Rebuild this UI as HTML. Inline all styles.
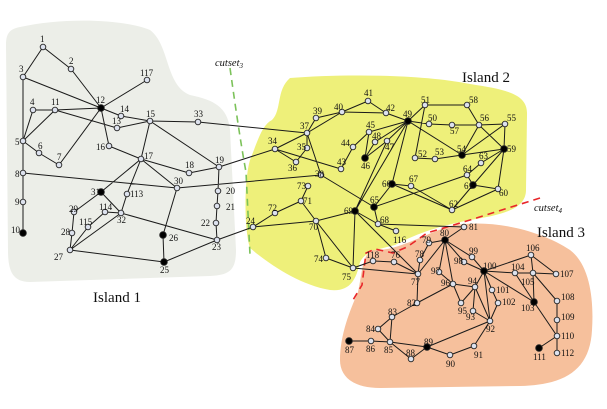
<!DOCTYPE html>
<html><head><meta charset="utf-8"><style>
html,body{margin:0;padding:0;background:#fff;}
svg{display:block;}
text{font-family:"Liberation Serif",serif;font-size:9px;fill:#111;}
.big{font-size:15px;}
.it{font-style:italic;font-size:10.5px;}
</style></head><body>
<svg id="s" width="607" height="409" viewBox="0 0 607 409" xmlns="http://www.w3.org/2000/svg">
<path d="M20,27 C60,18 120,18 150,30 C170,45 165,85 190,95 C215,100 228,108 230,130 L236,250 C236,270 230,275 210,276 L30,282 C12,282 8,270 8,250 L6,45 C6,33 10,29 20,27 Z" fill="#eceee8"/>
<path d="M290,78 C340,74 420,74 470,84 C510,90 528,95 527,115 L526,190 C526,210 500,215 470,220 C440,226 420,232 395,245 C375,250 365,252 360,262 C356,280 350,292 330,290 C300,285 270,265 250,248 C244,230 244,180 250,160 C258,140 262,125 272,120 C282,110 276,90 290,78 Z" fill="#eef07a"/>
<path d="M372,250 C395,252 420,236 450,226 C490,218 540,230 570,250 C590,265 594,300 592,330 C590,370 565,385 520,386 L380,388 C355,388 340,378 340,360 C340,335 350,310 358,292 C362,275 362,255 372,250 Z" fill="#f6c09c"/>
<path d="M230,68 Q240,140 246,172 L250,255" fill="none" stroke="#7cc25a" stroke-width="1.6" stroke-dasharray="7,5"/>
<path d="M540,198 L470,220 L427,233 L407,247 L393,253 L375,249 L366,253 L362,285 L353,300" fill="none" stroke="#e8262a" stroke-width="1.6" stroke-dasharray="7,5"/>
<g id="E" stroke="#1a1a1a" stroke-width="1" fill="none"></g>
<g id="N"></g>
<text x="117" y="302" class="big" text-anchor="middle">Island 1</text>
<text x="486" y="82" class="big" text-anchor="middle">Island 2</text>
<text x="561" y="237" class="big" text-anchor="middle">Island 3</text>
<text x="215" y="66" class="it">cutset<tspan font-size="7" dy="2">3</tspan></text>
<text x="534" y="211" class="it">cutset<tspan font-size="7" dy="2">4</tspan></text>
<text x="40" y="42">1</text><text x="69" y="64">2</text><text x="19" y="72">3</text><text x="140" y="76">117</text><text x="96" y="103">12</text><text x="30" y="105">4</text><text x="51" y="105">11</text><text x="120" y="112">14</text><text x="112" y="124">13</text><text x="146" y="117">15</text><text x="194" y="117">33</text><text x="15" y="145">5</text><text x="38" y="149">6</text><text x="57" y="160">7</text><text x="96" y="150">16</text><text x="144" y="159">17</text><text x="215" y="163">19</text><text x="185" y="168">18</text><text x="15" y="177">8</text><text x="174" y="184">30</text><text x="91" y="195">31</text><text x="130" y="197">113</text><text x="226" y="194">20</text><text x="226" y="210">21</text><text x="69" y="212">29</text><text x="99" y="210">114</text><text x="117" y="223">32</text><text x="15" y="205">9</text><text x="201" y="226">22</text><text x="79" y="225">115</text><text x="11" y="233">10</text><text x="169" y="241">26</text><text x="61" y="235">28</text><text x="212" y="250">23</text><text x="54" y="260">27</text><text x="160" y="273">25</text>
<text x="364" y="96">41</text><text x="313" y="114">39</text><text x="334" y="110">40</text><text x="386" y="111">42</text><text x="403" y="117">49</text><text x="421" y="103">51</text><text x="428" y="121">50</text><text x="300" y="129">37</text><text x="366" y="128">45</text><text x="372" y="139">48</text><text x="385" y="150">47</text><text x="341" y="146">44</text><text x="268" y="144">34</text><text x="297" y="150">35</text><text x="288" y="171">36</text><text x="361" y="169">46</text><text x="418" y="157">52</text><text x="435" y="155">53</text><text x="337" y="165">43</text><text x="315" y="177">38</text><text x="382" y="187">66</text><text x="409" y="182">67</text><text x="370" y="203">65</text><text x="469" y="103">58</text><text x="480" y="121">56</text><text x="507" y="121">55</text><text x="450" y="134">57</text><text x="457" y="152">54</text><text x="507" y="152">59</text><text x="479" y="159">63</text><text x="463" y="172">64</text><text x="464" y="189">61</text><text x="499" y="196">60</text><text x="449" y="207">62</text><text x="297" y="189">73</text><text x="303" y="204">71</text><text x="268" y="211">72</text><text x="246" y="224">24</text><text x="309" y="230">70</text><text x="344" y="214">69</text><text x="380" y="223">68</text><text x="393" y="243">116</text><text x="314" y="262">74</text><text x="342" y="280">75</text><text x="366" y="258">118</text><text x="391" y="258">76</text><text x="411" y="285">77</text><text x="415" y="257">78</text><text x="422" y="243">79</text><text x="469" y="230">81</text><text x="440" y="236">80</text><text x="469" y="254">99</text><text x="454" y="264">98</text><text x="483" y="269">100</text><text x="431" y="274">97</text><text x="441" y="286">96</text><text x="468" y="284">94</text><text x="458" y="314">95</text><text x="466" y="320">93</text><text x="486" y="332">92</text><text x="407" y="306">82</text><text x="388" y="315">83</text><text x="366" y="332">84</text><text x="384" y="353">85</text><text x="366" y="352">86</text><text x="345" y="353">87</text><text x="406" y="356">88</text><text x="424" y="345">89</text><text x="446" y="367">90</text><text x="474" y="358">91</text><text x="526" y="251">106</text><text x="511" y="270">104</text><text x="521" y="285">105</text><text x="560" y="277">107</text><text x="496" y="293">101</text><text x="502" y="305">102</text><text x="521" y="311">103</text><text x="561" y="300">108</text><text x="561" y="320">109</text><text x="561" y="339">110</text><text x="533" y="360">111</text><text x="561" y="356">112</text>
</svg>
<script>
var P={1:[43,47],2:[71,69],3:[23,77],117:[147,80],12:[101,108],4:[33,110],11:[55,110],14:[121,116],13:[117,128],15:[150,121],33:[198,122],5:[23,141],6:[39,153],7:[59,165],16:[109,146],17:[141,159],19:[219,167],18:[189,173],8:[23,173],30:[177,188],31:[101,192],113:[127,194],20:[218,191],21:[217,206],29:[74,212],114:[105,212],32:[121,213],9:[23,202],22:[216,223],115:[88,227],10:[23,233],26:[163,235],28:[72,233],23:[217,240],27:[70,250],25:[164,262],
41:[368,101],39:[316,118],40:[342,112],42:[386,113],49:[408,121],51:[425,105],50:[429,124],37:[307,133],45:[369,132],48:[375,142],47:[387,141],44:[353,147],34:[275,149],35:[307,148],36:[296,162],46:[365,158],52:[415,158],53:[435,159],43:[341,169],38:[321,175],66:[392,184],67:[411,186],65:[374,207],58:[467,105],56:[479,125],55:[505,124],57:[452,125],54:[462,155],59:[504,149],63:[481,163],64:[467,175],61:[473,185],60:[498,189],62:[452,210],
73:[308,186],71:[301,201],72:[275,213],24:[253,227],70:[316,221],69:[355,211],68:[378,224],116:[396,231],74:[326,258],75:[353,268],118:[373,261],76:[394,262],77:[418,274],78:[420,260],79:[429,243],
81:[464,227],80:[445,240],99:[472,257],98:[464,262],100:[484,271],97:[439,272],96:[453,284],94:[475,287],95:[461,303],93:[473,311],92:[490,321],82:[417,303],83:[392,317],84:[378,329],85:[390,342],86:[371,341],87:[349,341],88:[411,359],89:[427,347],90:[450,355],91:[474,346],
106:[531,255],104:[515,273],105:[533,273],107:[556,274],101:[492,290],102:[498,303],103:[534,302],108:[557,301],109:[557,320],110:[557,336],111:[539,348],112:[557,353]};
var F=[12,31,10,26,25,49,46,66,65,54,59,61,69,80,100,87,89,103,111];
var E="1-2 1-3 2-12 3-5 3-12 4-5 4-11 5-6 5-11 6-7 7-12 8-9 5-8 8-30 9-10 11-12 11-13 12-14 12-16 12-117 13-15 14-15 15-17 15-19 15-33 16-17 17-18 17-30 17-31 17-113 18-19 19-20 19-34 20-21 21-22 22-23 23-24 23-25 23-32 24-70 24-72 25-27 26-25 26-30 27-28 27-32 27-115 28-29 29-31 30-38 31-32 32-113 32-114 114-115 33-37 34-36 34-37 34-43 35-36 35-37 37-38 37-39 37-40 38-65 39-40 40-41 40-42 41-42 42-49 43-44 44-45 45-46 45-49 46-47 46-48 47-49 47-69 48-49 49-50 49-51 49-54 49-66 49-69 50-57 51-52 51-58 52-53 53-54 54-55 54-56 54-59 55-56 55-59 56-57 56-58 56-59 59-60 59-61 59-63 60-61 60-62 61-62 61-64 63-64 64-65 65-66 65-68 66-67 67-62 66-62 68-69 68-81 68-116 69-70 69-75 69-77 70-71 70-74 70-75 71-72 71-73 74-75 75-77 75-118 76-77 76-118 77-78 77-80 77-82 78-79 79-80 80-81 80-96 80-97 80-98 80-99 82-83 82-96 83-84 83-85 84-85 85-86 85-88 85-89 86-87 88-89 89-90 89-92 90-91 91-92 92-93 92-94 92-100 92-102 93-94 94-95 94-96 94-100 95-96 96-97 98-100 99-100 100-101 100-103 100-104 100-106 101-102 103-104 103-105 103-110 104-105 105-106 105-107 105-108 106-107 108-109 109-110 110-111 110-112".split(" ");
var ns="http://www.w3.org/2000/svg",eg=document.getElementById("E"),ng=document.getElementById("N"),d="";
E.forEach(function(e){var a=e.split("-"),p=P[a[0]],q=P[a[1]];d+="M"+p[0]+","+p[1]+"L"+q[0]+","+q[1];});
var pa=document.createElementNS(ns,"path");pa.setAttribute("d",d);eg.appendChild(pa);
for(var k in P){var c=document.createElementNS(ns,"circle"),f=F.indexOf(+k)>=0;c.setAttribute("cx",P[k][0]);c.setAttribute("cy",P[k][1]);c.setAttribute("r",f?3.3:2.8);c.setAttribute("fill",f?"#000":"#dde2ee");c.setAttribute("stroke","#222");c.setAttribute("stroke-width","0.9");ng.appendChild(c);}
</script>
</body></html>
